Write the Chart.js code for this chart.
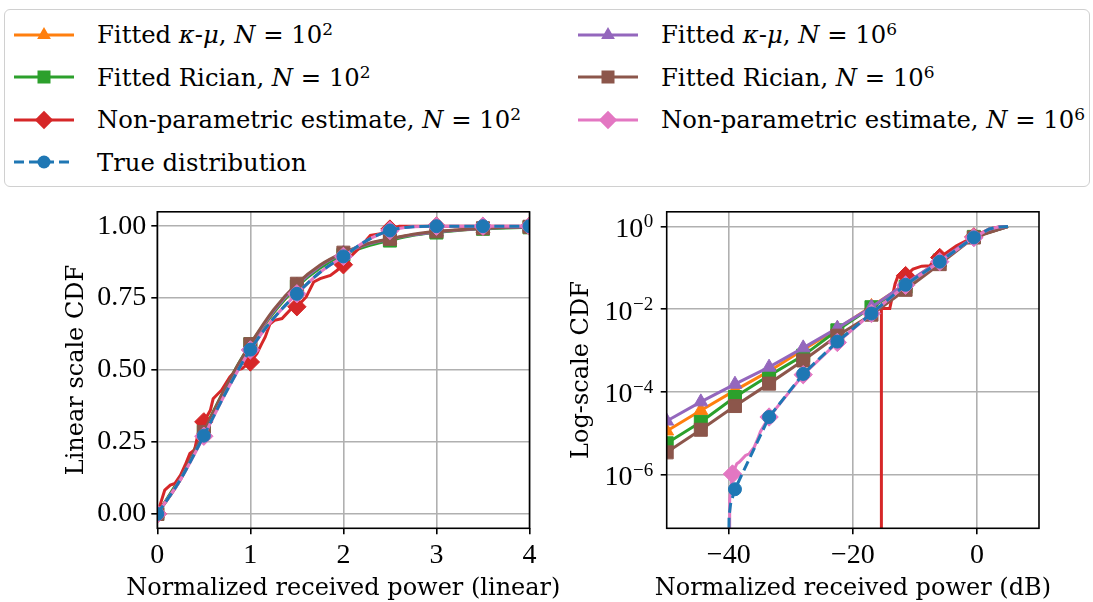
<!DOCTYPE html>
<html>
<head>
<meta charset="utf-8">
<script src="https://cdn.jsdelivr.net/npm/chart.js@4.4.1/dist/chart.umd.min.js"></script>
<style>
body { margin: 0; background: #fff; width: 1093px; height: 602px; overflow: hidden; position: relative; font-family: "DejaVu Serif", serif; }
#legendBox { position: absolute; left: 4px; top: 9px; width: 1084px; height: 176px; border: 1.5px solid #d0d0d0; border-radius: 6px; }
.item { position: absolute; display: flex; align-items: center; height: 40px; font-size: 24.3px; color: #000; white-space: nowrap; }
.item svg { flex: none; margin-right: 23px; }
sup { font-size: 0.7em; vertical-align: 0.5em; line-height: 0; }
#c1 { position: absolute; left: 0; top: 190px; }
#c2 { position: absolute; left: 560px; top: 190px; }
</style>
</head>
<body>
<div id="legendBox"></div>
<div id="legend"></div>
<canvas id="c1" width="600" height="412"></canvas>
<canvas id="c2" width="533" height="412"></canvas>
<script>
// ---- left panel: linear scale ----
const linX = [0, 0.25, 0.5, 0.75, 1, 1.25, 1.5, 1.75, 2, 2.25, 2.5, 2.75, 3, 3.25, 3.5, 3.75, 4];
const linMarkX = [0, 0.5, 1, 1.5, 2, 2.5, 3, 3.5, 4];
const linKappa2  = [0, 0.12, 0.28, 0.44, 0.58, 0.70, 0.79, 0.86, 0.905, 0.935, 0.955, 0.970, 0.980, 0.987, 0.992, 0.995, 0.997];
const linRician2 = [0, 0.13, 0.29, 0.45, 0.59, 0.70, 0.79, 0.855, 0.90, 0.93, 0.95, 0.968, 0.978, 0.986, 0.991, 0.994, 0.996];
const linKappa6  = [0, 0.12, 0.28, 0.44, 0.585, 0.705, 0.795, 0.862, 0.906, 0.936, 0.955, 0.970, 0.980, 0.987, 0.992, 0.995, 0.997];
const linRician6 = [0, 0.125, 0.285, 0.45, 0.59, 0.71, 0.80, 0.865, 0.908, 0.938, 0.956, 0.972, 0.982, 0.988, 0.993, 0.996, 0.998];
const linTrue    = [0, 0.12, 0.272, 0.43, 0.571, 0.68, 0.765, 0.84, 0.895, 0.95, 0.985, 0.998, 1, 1, 1, 1, 1];
const linNonpar6 = [0, 0.12, 0.27, 0.43, 0.57, 0.68, 0.765, 0.84, 0.895, 0.95, 0.985, 0.998, 1, 1, 1, 1, 1];
const linNonpar2X = [0, 0.08, 0.14, 0.19, 0.25, 0.3, 0.35, 0.4, 0.44, 0.5, 0.57, 0.6, 0.69, 0.78, 0.85, 0.91, 1, 1.07, 1.12, 1.16, 1.21, 1.26, 1.34, 1.39, 1.44, 1.5, 1.6, 1.68, 1.75, 1.86, 1.93, 2, 2.07, 2.18, 2.29, 2.4, 2.5, 2.6, 3, 3.5, 4];
const linNonpar2  = [0, 0.083, 0.10, 0.106, 0.135, 0.17, 0.21, 0.222, 0.28, 0.32, 0.36, 0.40, 0.43, 0.476, 0.50, 0.505, 0.528, 0.557, 0.59, 0.615, 0.66, 0.673, 0.679, 0.696, 0.713, 0.72, 0.754, 0.806, 0.818, 0.829, 0.846, 0.866, 0.892, 0.927, 0.968, 0.974, 0.99, 1, 1, 1, 1];
const linXTicks = [0, 1, 2, 3, 4];
const linYTicks = [0, 0.25, 0.5, 0.75, 1];

// ---- right panel: dB, log scale ----
const dbX = [-50, -44.5, -39, -33.5, -28, -22.5, -17, -11.5, -6, -0.5, 5];
const dbMarkX = [-50, -44.5, -39, -33.5, -28, -22.5, -17, -11.5, -6, -0.5];
const dbKappa2  = [1.15e-5, 3.6e-5, 1.1e-4, 3.2e-4, 1.05e-3, 3.4e-3, 1.17e-2, 4.0e-2, 0.148, 0.56, 1];
const dbRician2 = [5.8e-6, 1.9e-5, 7.6e-5, 2.5e-4, 7.6e-4, 3.1e-3, 1.12e-2, 3.5e-2, 0.151, 0.56, 1];
const dbKappa6  = [2.0e-5, 5.8e-5, 1.55e-4, 4.0e-4, 1.17e-3, 3.5e-3, 1.12e-2, 4.2e-2, 0.148, 0.56, 1];
const dbRician6 = [3.5e-6, 1.23e-5, 4.6e-5, 1.6e-4, 5.8e-4, 2.3e-3, 7.4e-3, 2.95e-2, 0.123, 0.54, 1];
const dbTrueX = [-40, -39.95, -39.7, -39, -33.5, -28, -22.5, -17, -11.5, -6, -0.5, 2, 3.5, 5];
const dbTrue  = [1e-8, 1e-7, 2.0e-7, 4.5e-7, 2.5e-5, 2.75e-4, 1.66e-3, 7.9e-3, 3.9e-2, 0.141, 0.543, 0.87, 0.97, 1];
const dbTrueMarkX = [-39, -33.5, -28, -22.5, -17, -11.5, -6, -0.5];
const dbNonpar6X = [-39.9, -39.85, -39.4, -38.7, -38.3, -37.3, -36.7, -35.9, -35.3, -34.9, -34.2, -33.5, -28, -22.5, -17, -11.5, -6, -0.5, 2, 3.5, 5];
const dbNonpar6  = [1e-8, 2.5e-7, 1.05e-6, 1.86e-6, 2.04e-6, 2.95e-6, 3.24e-6, 4.68e-6, 7.6e-6, 1.1e-5, 1.66e-5, 2.5e-5, 2.63e-4, 1.58e-3, 7.9e-3, 3.8e-2, 0.141, 0.537, 0.87, 0.97, 1];
const dbNonpar6MarkX = [-39.4, -33.5, -28, -22.5, -17, -11.5, -6, -0.5];
const dbNonpar2X = [-15.4, -15.4, -14.05, -13.2, -12.7, -11.5, -10.3, -8.9, -7.6, -6.8, -6, -3.3, -0.5, 2, 3.5, 5];
const dbNonpar2  = [1e-8, 0.0105, 0.0105, 0.041, 0.065, 0.065, 0.093, 0.11, 0.112, 0.162, 0.178, 0.34, 0.56, 0.87, 0.97, 1];
const dbNonpar2MarkX = [-11.5, -6, -0.5];
const dbXTicks = [-40, -20, 0];
const logYTicks = [1, 1e-2, 1e-4, 1e-6];
const logYExp = ['0', '\u22122', '\u22124', '\u22126'];

// ---- series look + legend ----
const styles = {
  kappa2:  { color: '#ff7f0e', marker: 'triangle', size: 8 },
  rician2: { color: '#2ca02c', marker: 'rect', size: 9.2 },
  nonpar2: { color: '#d62728', marker: 'rectRot', size: 9.2 },
  truth:   { color: '#1f77b4', marker: 'circle', size: 6.5, dash: [10, 5] },
  kappa6:  { color: '#9467bd', marker: 'triangle', size: 8 },
  rician6: { color: '#8c564b', marker: 'rect', size: 9.2 },
  nonpar6: { color: '#e377c2', marker: 'rectRot', size: 9.2 }
};
// z order: lower is drawn on top
const zOrder = { truth: 0, nonpar6: 1, rician6: 2, kappa6: 3, nonpar2: 4, rician2: 5, kappa2: 6 };

const legendItems = [
  ['kappa2',  'Fitted <i>\u03ba</i>-<i>\u03bc</i>, <i>N</i> = 10<sup>2</sup>'],
  ['rician2', 'Fitted Rician, <i>N</i> = 10<sup>2</sup>'],
  ['nonpar2', 'Non-parametric estimate, <i>N</i> = 10<sup>2</sup>'],
  ['truth',   'True distribution'],
  ['kappa6',  'Fitted <i>\u03ba</i>-<i>\u03bc</i>, <i>N</i> = 10<sup>6</sup>'],
  ['rician6', 'Fitted Rician, <i>N</i> = 10<sup>6</sup>'],
  ['nonpar6', 'Non-parametric estimate, <i>N</i> = 10<sup>6</sup>']
];

function iconSvg(st) {
  let m = '';
  if (st.marker === 'triangle') m = '<polygon points="30,4 36.9,16 23.1,16" />';
  else if (st.marker === 'rect') m = '<rect x="23.5" y="5.5" width="13" height="13" />';
  else if (st.marker === 'rectRot') m = '<polygon points="30,2.8 39.2,12 30,21.2 20.8,12" />';
  else m = '<circle cx="30" cy="12" r="6.5" />';
  const dash = st.dash ? ' stroke-dasharray="' + st.dash.join(' ') + '"' : '';
  return '<svg width="60" height="24"><line x1="0" y1="12" x2="60" y2="12" stroke="' + st.color +
    '" stroke-width="3"' + dash + ' /><g fill="' + st.color + '">' + m + '</g></svg>';
}

const rowY = [34.5, 77, 119.5, 162];
const legend = document.getElementById('legend');
legendItems.forEach((it, i) => {
  const col = i < 4 ? 0 : 1;
  const row = i < 4 ? i : i - 4;
  const div = document.createElement('div');
  div.className = 'item';
  div.style.left = (col === 0 ? 14 : 578) + 'px';
  div.style.top = (rowY[row] - 20) + 'px';
  div.innerHTML = iconSvg(styles[it[0]]) + '<span>' + it[1] + '</span>';
  legend.appendChild(div);
});

function makeSet(key, xs, ys, marks, smooth) {
  const st = styles[key];
  return {
    data: xs.map((x, i) => ({ x: x, y: ys[i] })),
    borderColor: st.color,
    backgroundColor: st.color,
    borderWidth: 3,
    borderDash: st.dash || [],
    pointStyle: st.marker,
    pointRadius: ctx => (ctx.raw && marks.includes(ctx.raw.x)) ? st.size : 0,
    pointBorderWidth: 1,
    pointBorderColor: st.color,
    pointBackgroundColor: st.color,
    cubicInterpolationMode: smooth ? 'monotone' : 'default',
    tension: 0,
    order: zOrder[key],
    clip: 0
  };
}

const tickFont = { family: 'Liberation Serif', size: 28 };
const titleFont = { family: 'DejaVu Serif', size: 24 };

const framePlugin = {
  id: 'frame',
  afterDatasetsDraw(chart) {
    const a = chart.chartArea;
    const c = chart.ctx;
    c.save();
    c.strokeStyle = '#000';
    c.lineWidth = 1.6;
    c.strokeRect(a.left, a.top, a.right - a.left, a.bottom - a.top);
    c.restore();
  }
};

// x axis title drawn here so it is not squeezed to the plot width
const xTitlePlugin = {
  id: 'xTitle',
  afterDraw(chart, args, opts) {
    const a = chart.chartArea;
    const c = chart.ctx;
    c.save();
    c.fillStyle = '#000';
    c.font = '24px "DejaVu Serif"';
    c.textAlign = 'center';
    c.textBaseline = 'alphabetic';
    c.fillText(opts.text, (a.left + a.right) / 2, 405);
    c.restore();
  }
};

const logLabelPlugin = {
  id: 'logLabels',
  afterDraw(chart) {
    const s = chart.scales.y;
    if (s.type !== 'logarithmic') return;
    const c = chart.ctx;
    c.save();
    c.fillStyle = '#000';
    c.textAlign = 'right';
    c.textBaseline = 'alphabetic';
    logYTicks.forEach((v, i) => {
      const y = s.getPixelForValue(v);
      const right = chart.chartArea.left - 13.5;
      c.font = '19px "Liberation Serif"';
      c.fillText(logYExp[i], right, y + 1);
      const w = c.measureText(logYExp[i]).width;
      c.font = '28px "Liberation Serif"';
      c.fillText('10', right - w - 0.5, y + 10.3);
    });
    c.restore();
  }
};

function baseScales(xTicks, yTicks, yWidth, yTitle, yTitlePad) {
  const grid = { color: '#b0b0b0', lineWidth: 1.6, tickLength: 6, tickColor: '#000', tickWidth: 1.6 };
  return {
    x: {
      type: 'linear',
      afterBuildTicks: s => { s.ticks = xTicks.map(v => ({ value: v })); },
      afterFit: s => { s.height = 73.7; },
      grid: grid,
      border: { display: false },
      ticks: { font: tickFont, color: '#000', padding: 5, autoSkip: false, maxRotation: 0,
               callback: v => String(v).replace('-', '\u2212') },
      title: { display: false }
    },
    y: {
      afterBuildTicks: s => { s.ticks = yTicks.map(v => ({ value: v })); },
      afterFit: s => { s.width = yWidth; },
      grid: grid,
      border: { display: false },
      ticks: { font: tickFont, color: '#000', padding: 5, autoSkip: false },
      title: { display: true, text: yTitle, font: titleFont, color: '#000', padding: { top: yTitlePad, bottom: 0 } }
    }
  };
}

// left chart
const s1 = baseScales(linXTicks, linYTicks, 157.3, 'Linear scale CDF', 62);
s1.x.min = 0; s1.x.max = 4;
s1.y.type = 'linear';
s1.y.min = -0.05; s1.y.max = 1.05;
s1.y.ticks.callback = v => v.toFixed(2);

new Chart(document.getElementById('c1'), {
  type: 'line',
  data: {
    datasets: [
      makeSet('kappa2', linX, linKappa2, linMarkX, true),
      makeSet('rician2', linX, linRician2, linMarkX, true),
      makeSet('nonpar2', linNonpar2X, linNonpar2, linMarkX, false),
      makeSet('truth', linX, linTrue, linMarkX, true),
      makeSet('kappa6', linX, linKappa6, linMarkX, true),
      makeSet('rician6', linX, linRician6, linMarkX, true),
      makeSet('nonpar6', linX, linNonpar6, linMarkX, true)
    ]
  },
  options: {
    responsive: false,
    animation: false,
    layout: { padding: { left: 0, top: 21, right: 70.5, bottom: 0 } },
    plugins: {
      legend: { display: false },
      tooltip: { enabled: false },
      xTitle: { text: 'Normalized received power (linear)' }
    },
    scales: s1
  },
  plugins: [framePlugin, xTitlePlugin]
});

// right chart
const s2 = baseScales(dbXTicks, logYTicks, 106.7, 'Log-scale CDF', 7);
s2.x.min = -50; s2.x.max = 10;
s2.y.type = 'logarithmic';
s2.y.min = Math.pow(10, -7.29); s2.y.max = Math.pow(10, 0.354);
s2.y.ticks.callback = () => '';

new Chart(document.getElementById('c2'), {
  type: 'line',
  data: {
    datasets: [
      makeSet('kappa2', dbX, dbKappa2, dbMarkX, false),
      makeSet('rician2', dbX, dbRician2, dbMarkX, false),
      makeSet('nonpar2', dbNonpar2X, dbNonpar2, dbNonpar2MarkX, false),
      makeSet('truth', dbTrueX, dbTrue, dbTrueMarkX, false),
      makeSet('kappa6', dbX, dbKappa6, dbMarkX, false),
      makeSet('rician6', dbX, dbRician6, dbMarkX, false),
      makeSet('nonpar6', dbNonpar6X, dbNonpar6, dbNonpar6MarkX, false)
    ]
  },
  options: {
    responsive: false,
    animation: false,
    layout: { padding: { left: 0, top: 21, right: 54, bottom: 0 } },
    plugins: {
      legend: { display: false },
      tooltip: { enabled: false },
      xTitle: { text: 'Normalized received power (dB)' }
    },
    scales: s2
  },
  plugins: [framePlugin, logLabelPlugin, xTitlePlugin]
});
</script>
</body>
</html>
